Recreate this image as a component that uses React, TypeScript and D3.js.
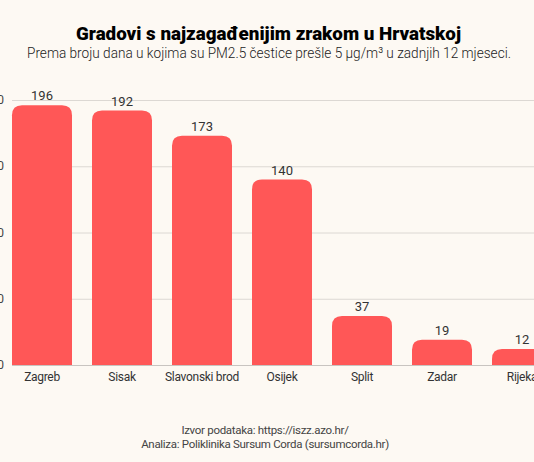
import { useEffect, useRef } from "react";
import * as d3 from "d3";

const cities = ["Zagreb", "Sisak", "Slavonski brod", "Osijek", "Split", "Zadar", "Rijeka"];
const days = [196, 192, 173, 140, 37, 19, 12];
const yTicks = [0, 50, 100, 150, 200];

const title = "Gradovi s najzagađenijim zrakom u Hrvatskoj";
const subtitle = "Prema broju dana u kojima su PM2.5 čestice prešle 5 µg/m³ u zadnjih 12 mjeseci.";
const footer = ["Izvor podataka: https://iszz.azo.hr/", "Analiza: Poliklinika Sursum Corda (sursumcorda.hr)"];

const width = 534;
const height = 462;

const App = () => {
  const svgRef = useRef<SVGSVGElement | null>(null);

  useEffect(() => {
    document.body.style.margin = "0";
    if (!svgRef.current) return;
    const svg = d3.select(svgRef.current);
    svg.selectAll("*").remove();

    const font = "Roboto, 'Noto Sans', sans-serif";

    svg.append("rect").attr("width", width).attr("height", height).attr("fill", "#fdf9f3");

    const x = d3
      .scaleBand<string>()
      .domain(cities)
      .range([2, 562])
      .paddingInner(0.25)
      .paddingOuter(0.125);

    const y = d3.scaleLinear().domain([0, 200]).range([365, 100]);

    // gridlines (the tick labels sit past the left edge, as in the original crop)
    svg
      .append("g")
      .selectAll("line")
      .data(yTicks)
      .join("line")
      .attr("x1", 12)
      .attr("x2", width)
      .attr("y1", (d) => y(d) + 0.5)
      .attr("y2", (d) => y(d) + 0.5)
      .attr("stroke", (d) => (d === 0 ? "#c8c4c0" : "#dcd8d3"))
      .attr("stroke-width", 1);

    svg
      .append("g")
      .selectAll("text")
      .data(yTicks)
      .join("text")
      .attr("x", 4)
      .attr("y", (d) => y(d) + 4)
      .attr("text-anchor", "end")
      .attr("font-family", font)
      .attr("font-size", 12)
      .attr("fill", "#444")
      .text((d) => d);

    // bars with rounded tops
    const r = 10;
    const barPath = (xs: number, w: number, top: number, bottom: number) => {
      const rr = Math.min(r, bottom - top, w / 2);
      return `M${xs},${bottom}V${top + rr}Q${xs},${top} ${xs + rr},${top}H${xs + w - rr}Q${xs + w},${top} ${xs + w},${top + rr}V${bottom}Z`;
    };

    const data = cities.map((c, i) => ({ city: c, value: days[i] }));

    svg
      .append("g")
      .selectAll("path")
      .data(data)
      .join("path")
      .attr("d", (d) => barPath(x(d.city)!, x.bandwidth(), y(d.value), y(0)))
      .attr("fill", "#ff5757");

    svg
      .append("g")
      .selectAll("text")
      .data(data)
      .join("text")
      .attr("x", (d) => x(d.city)! + x.bandwidth() / 2)
      .attr("y", (d) => y(d.value) - 5)
      .attr("text-anchor", "middle")
      .attr("font-family", font)
      .attr("font-size", 13)
      .attr("fill", "#333")
      .text((d) => d.value);

    svg
      .append("g")
      .selectAll("text")
      .data(data)
      .join("text")
      .attr("x", (d) => x(d.city)! + x.bandwidth() / 2)
      .attr("y", 381)
      .attr("text-anchor", "middle")
      .attr("font-family", font)
      .attr("font-size", 12)
      .attr("letter-spacing", -0.3)
      .attr("fill", "#333")
      .text((d) => d.city);

    svg
      .append("text")
      .attr("x", 76)
      .attr("y", 40)
      .attr("font-family", font)
      .attr("font-weight", 900)
      .attr("font-size", 19)
      .attr("fill", "#000")
      .attr("textLength", 385)
      .attr("lengthAdjust", "spacingAndGlyphs")
      .text(title);

    svg
      .append("text")
      .attr("x", 27)
      .attr("y", 58)
      .attr("font-family", font)
      .attr("font-weight", 300)
      .attr("font-size", 15)
      .attr("fill", "#222")
      .attr("textLength", 484)
      .attr("lengthAdjust", "spacingAndGlyphs")
      .text(subtitle);

    svg
      .append("g")
      .selectAll("text")
      .data(footer)
      .join("text")
      .attr("x", 265)
      .attr("y", (_, i) => 434 + i * 14)
      .attr("text-anchor", "middle")
      .attr("font-family", font)
      .attr("font-size", 11.5)
      .attr("letter-spacing", -0.3)
      .attr("fill", "#444")
      .text((d) => d);
  }, []);

  return <svg ref={svgRef} width={width} height={height} style={{ display: "block" }} />;
};

export default App;
